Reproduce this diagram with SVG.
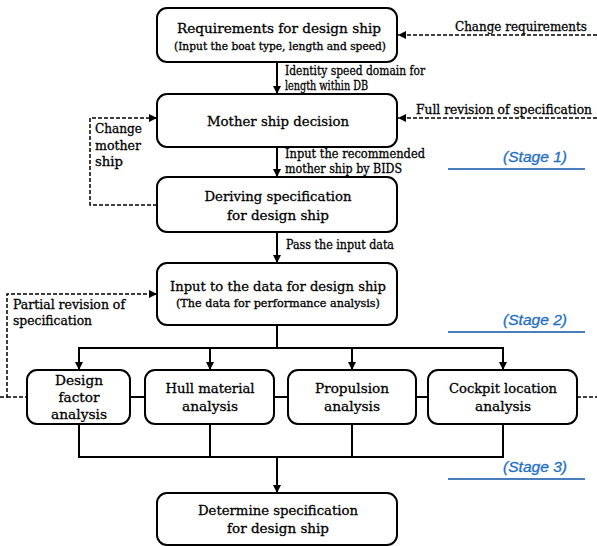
<svg xmlns="http://www.w3.org/2000/svg" width="597" height="546" viewBox="0 0 597 546">
<defs>
<marker id="ah" viewBox="0 0 10 10" refX="10" refY="5" markerWidth="8" markerHeight="8" markerUnits="userSpaceOnUse" orient="auto"><path d="M0,0 L10,5 L0,10 z" fill="#000"/></marker>
<style>
.box{fill:#fff;stroke:#000;stroke-width:2}
text{font-family:"DejaVu Serif","Liberation Serif",serif;fill:#000;stroke:#000;stroke-width:0.3}
.t{font-size:13.5px;text-anchor:middle}
.s{font-size:10.5px;text-anchor:middle}
.l{font-size:12px}
.st{font-family:"Liberation Sans",sans-serif;font-style:italic;font-size:14px;fill:#1F6FC4;stroke:#1F6FC4;stroke-width:0.3}
.ln{stroke:#000;stroke-width:2;fill:none}
.dl{stroke:#000;stroke-width:1.5;fill:none;stroke-dasharray:4,2}
.bl{stroke:#4A7EBB;stroke-width:2}
</style>
</defs>
<g id="connectors">
<line class="ln" x1="277" y1="62" x2="277" y2="94" marker-end="url(#ah)"/>
<line class="ln" x1="277" y1="147" x2="277" y2="177" marker-end="url(#ah)"/>
<line class="ln" x1="277" y1="232" x2="277" y2="263" marker-end="url(#ah)"/>
<polyline class="ln" points="277,325 277,348"/>
<line class="ln" x1="78" y1="348" x2="504" y2="348"/>
<line class="ln" x1="79" y1="347" x2="79" y2="370" marker-end="url(#ah)"/>
<line class="ln" x1="210" y1="347" x2="210" y2="370" marker-end="url(#ah)"/>
<line class="ln" x1="352" y1="347" x2="352" y2="370" marker-end="url(#ah)"/>
<line class="ln" x1="503" y1="347" x2="503" y2="370" marker-end="url(#ah)"/>
<line class="ln" x1="130" y1="397" x2="145" y2="397"/>
<line class="ln" x1="274" y1="397" x2="288" y2="397"/>
<line class="ln" x1="416" y1="397" x2="428" y2="397"/>
<polyline class="ln" points="79,424 79,457 503,457 503,424"/>
<line class="ln" x1="210" y1="424" x2="210" y2="457"/>
<line class="ln" x1="352" y1="424" x2="352" y2="457"/>
<line class="ln" x1="277" y1="457" x2="277" y2="493" marker-end="url(#ah)"/>
<line class="dl" x1="597" y1="35" x2="398" y2="35" marker-end="url(#ah)"/>
<line class="dl" x1="597" y1="118" x2="398" y2="118" marker-end="url(#ah)"/>
<polyline class="dl" points="157,205 90,205 90,118 157,118" marker-end="url(#ah)"/>
<polyline class="dl" points="0,397 7,397 7,294 157,294" marker-end="url(#ah)"/>
<line class="dl" x1="7" y1="397" x2="27" y2="397"/>
<line class="dl" x1="577" y1="397" x2="597" y2="397"/>
</g>
<g id="labels">
<text class="l" x="285" y="75" textLength="140" lengthAdjust="spacingAndGlyphs">Identity speed domain for</text>
<text class="l" x="285" y="90" textLength="83" lengthAdjust="spacingAndGlyphs">length within DB</text>
<text class="l" x="455" y="31" textLength="132" lengthAdjust="spacingAndGlyphs">Change requirements</text>
<text class="l" x="416" y="114" textLength="176" lengthAdjust="spacingAndGlyphs">Full revision of specification</text>
<text class="l" x="95" y="133" textLength="47" lengthAdjust="spacingAndGlyphs">Change</text>
<text class="l" x="95" y="150" textLength="46" lengthAdjust="spacingAndGlyphs">mother</text>
<text class="l" x="95" y="166" textLength="28" lengthAdjust="spacingAndGlyphs">ship</text>
<text class="l" x="285" y="158" textLength="140" lengthAdjust="spacingAndGlyphs">Input the recommended</text>
<text class="l" x="285" y="173" textLength="117" lengthAdjust="spacingAndGlyphs">mother ship by BIDS</text>
<text class="l" x="286" y="249" textLength="108" lengthAdjust="spacingAndGlyphs">Pass the input data</text>
<text class="l" x="13" y="309" textLength="112" lengthAdjust="spacingAndGlyphs">Partial revision of</text>
<text class="l" x="13" y="325" textLength="79" lengthAdjust="spacingAndGlyphs">specification</text>
<text class="st" x="503" y="162" textLength="64" lengthAdjust="spacingAndGlyphs">(Stage 1)</text>
<line class="bl" x1="448" y1="169" x2="585" y2="169"/>
<text class="st" x="503" y="325" textLength="64" lengthAdjust="spacingAndGlyphs">(Stage 2)</text>
<line class="bl" x1="448" y1="332" x2="585" y2="332"/>
<text class="st" x="503" y="472" textLength="64" lengthAdjust="spacingAndGlyphs">(Stage 3)</text>
<line class="bl" x1="448" y1="479" x2="585" y2="479"/>
</g>
<g id="n1"><rect class="box" x="157" y="8" width="240" height="54" rx="10"/><text class="t" x="279" y="33" textLength="204" lengthAdjust="spacingAndGlyphs">Requirements for design ship</text><text class="s" x="280" y="50" textLength="212" lengthAdjust="spacingAndGlyphs">(Input the boat type, length and speed)</text></g>
<g id="n2"><rect class="box" x="157" y="94" width="240" height="53" rx="10"/><text class="t" x="278" y="126" textLength="142" lengthAdjust="spacingAndGlyphs">Mother ship decision</text></g>
<g id="n3"><rect class="box" x="157" y="177" width="240" height="55" rx="10"/><text class="t" x="278" y="201" textLength="147" lengthAdjust="spacingAndGlyphs">Deriving specification</text><text class="t" x="278" y="220" textLength="102" lengthAdjust="spacingAndGlyphs">for design ship</text></g>
<g id="n4"><rect class="box" x="157" y="263" width="240" height="62" rx="10"/><text class="t" x="278" y="291" textLength="216" lengthAdjust="spacingAndGlyphs">Input to the data for design ship</text><text class="s" x="278" y="307" textLength="204" lengthAdjust="spacingAndGlyphs">(The data for performance analysis)</text></g>
<g id="n5"><rect class="box" x="27" y="370" width="103" height="54" rx="10"/><text class="t" x="79" y="385" textLength="48" lengthAdjust="spacingAndGlyphs">Design</text><text class="t" x="79" y="402" textLength="41" lengthAdjust="spacingAndGlyphs">factor</text><text class="t" x="79" y="419" textLength="56" lengthAdjust="spacingAndGlyphs">analysis</text></g>
<g id="n6"><rect class="box" x="145" y="370" width="129" height="54" rx="10"/><text class="t" x="210" y="393" textLength="89" lengthAdjust="spacingAndGlyphs">Hull material</text><text class="t" x="210" y="411" textLength="56" lengthAdjust="spacingAndGlyphs">analysis</text></g>
<g id="n7"><rect class="box" x="288" y="370" width="128" height="54" rx="10"/><text class="t" x="352" y="393" textLength="74" lengthAdjust="spacingAndGlyphs">Propulsion</text><text class="t" x="352" y="411" textLength="56" lengthAdjust="spacingAndGlyphs">analysis</text></g>
<g id="n8"><rect class="box" x="428" y="370" width="149" height="54" rx="10"/><text class="t" x="503" y="393" textLength="108" lengthAdjust="spacingAndGlyphs">Cockpit location</text><text class="t" x="503" y="411" textLength="56" lengthAdjust="spacingAndGlyphs">analysis</text></g>
<g id="n9"><rect class="box" x="157" y="493" width="240" height="52" rx="10"/><text class="t" x="278" y="515" textLength="160" lengthAdjust="spacingAndGlyphs">Determine specification</text><text class="t" x="278" y="533" textLength="102" lengthAdjust="spacingAndGlyphs">for design ship</text></g>
</svg>
